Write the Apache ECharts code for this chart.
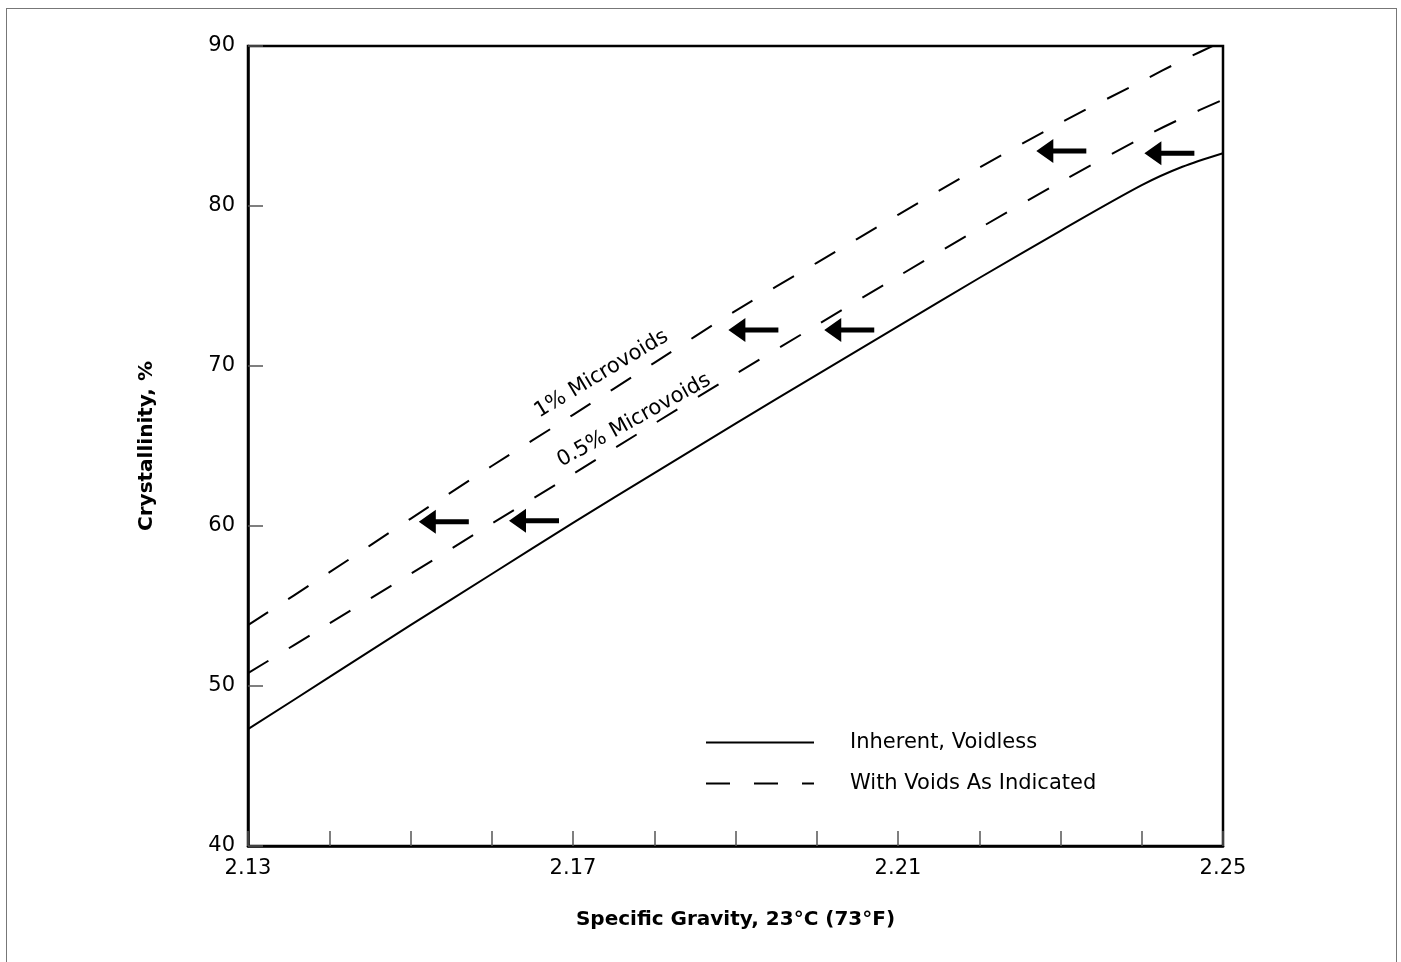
<!DOCTYPE html>
<html>
<head>
<meta charset="utf-8">
<title>Crystallinity vs Specific Gravity</title>
<script src="https://cdn.jsdelivr.net/npm/echarts@6/dist/echarts.min.js"></script>
<style>
  html, body { margin: 0; padding: 0; background: #fff; }
  #chart { width: 1401px; height: 962px; }
  /* outer frame of the figure */
  #frame { position: absolute; left: 6px; top: 8px; width: 1389px; height: 980px; border: 1px solid #777; pointer-events: none; }
</style>
</head>
<body>
<div id="chart"></div>
<div id="frame"></div>
<script>
// specific gravity at 23°C
const gravity = [2.13, 2.14, 2.15, 2.16, 2.17, 2.18, 2.19, 2.20, 2.21, 2.22, 2.23, 2.24, 2.245, 2.25];
// crystallinity, % — inherent (voidless)
const voidless = [47.3, 50.55, 53.8, 57.0, 60.2, 63.3, 66.4, 69.45, 72.48, 75.5, 78.45, 81.3, 82.45, 83.3];
// with 0.5% microvoids
const halfPercent = [50.8, 53.9, 57.0, 60.15, 63.25, 66.4, 69.5, 72.55, 75.6, 78.6, 81.5, 84.25, 85.5, 86.65];
// with 1% microvoids
const onePercent = [53.8, 57.1, 60.45, 63.75, 66.95, 70.2, 73.45, 76.45, 79.45, 82.4, 85.2, 87.8, 89.1, 90.3];

// arrows (centre of each arrow, in data units)
const arrowX = [2.1541, 2.1652, 2.1922, 2.2040, 2.2301, 2.2434];
const arrowY = [60.27, 60.33, 72.25, 72.25, 83.44, 83.3];

// curve labels
const curveLabels = ['1% Microvoids', '0.5% Microvoids'];
const curveLabelX = [2.1735, 2.1775];
const curveLabelY = [69.5, 66.6];
const curveLabelAngle = [31, 29];

const FONT = 'DejaVu Sans';
const ARROW = 'path://M0,12L17,0L17,9.5L50,9.5L50,14.5L17,14.5L17,24Z';

const chart = echarts.init(document.getElementById('chart'));

const toPairs = (ys) => gravity.map((x, i) => [x, ys[i]]);

const option = {
  animation: false,
  textStyle: { fontFamily: FONT },
  grid: {
    left: 248, top: 46, right: 178, bottom: 116,
    show: true, borderColor: '#000', borderWidth: 2.5,
    containLabel: false, outerBoundsMode: 'none'
  },
  legend: {
    left: 700, top: 727, orient: 'vertical',
    itemWidth: 108, itemHeight: 14, itemGap: 20,
    selectedMode: false,
    itemStyle: { opacity: 0 },
    data: ['Inherent, Voidless', 'With Voids As Indicated'],
    textStyle: { fontFamily: FONT, fontSize: 21, color: '#000', padding: [0, 0, 0, 31] }
  },
  xAxis: {
    type: 'value', min: 2.13, max: 2.25, interval: 0.01,
    name: 'Specific Gravity, 23°C (73°F)',
    nameLocation: 'middle', nameGap: 64,
    nameTextStyle: { fontFamily: FONT, fontSize: 20, fontWeight: 'bold', color: '#000' },
    axisLine: { lineStyle: { color: '#000', width: 2.5 } },
    axisTick: { inside: true, length: 15, lineStyle: { color: '#555', width: 1.5 } },
    axisLabel: {
      margin: 12, fontSize: 21, color: '#000', fontFamily: FONT,
      showMinLabel: true, showMaxLabel: true,
      formatter: (v) => (Math.round(v * 100) % 4 === 1 ? v.toFixed(2) : '')
    },
    splitLine: { show: false }
  },
  yAxis: {
    type: 'value', min: 40, max: 90, interval: 10,
    name: 'Crystallinity, %',
    nameLocation: 'middle', nameGap: 91,
    nameTextStyle: { fontFamily: FONT, fontSize: 20, fontWeight: 'bold', color: '#000' },
    axisLine: { show: true, lineStyle: { color: '#000', width: 2.5 } },
    axisTick: { show: true, inside: true, length: 15, lineStyle: { color: '#555', width: 1.5 } },
    axisLabel: { margin: 13, fontSize: 21, color: '#000', fontFamily: FONT },
    splitLine: { show: false }
  },
  series: [
    {
      name: 'Inherent, Voidless',
      type: 'line', smooth: 0.3, symbol: 'none',
      itemStyle: { color: '#000' },
      lineStyle: { color: '#000', width: 2 },
      data: toPairs(voidless)
    },
    {
      name: 'With Voids As Indicated',
      type: 'line', smooth: 0.3, symbol: 'none',
      itemStyle: { color: '#000' },
      lineStyle: { color: '#000', width: 2, type: [24, 24] },
      data: toPairs(halfPercent)
    },
    {
      name: 'With Voids As Indicated',
      type: 'line', smooth: 0.3, symbol: 'none',
      itemStyle: { color: '#000' },
      lineStyle: { color: '#000', width: 2, type: [24, 24] },
      data: toPairs(onePercent),
      markPoint: {
        symbol: 'circle', symbolSize: 1,
        itemStyle: { color: 'transparent' },
        data: curveLabels.map((t, i) => ({
          coord: [curveLabelX[i], curveLabelY[i]],
          label: {
            show: true, position: 'inside', formatter: t, rotate: curveLabelAngle[i],
            fontFamily: FONT, fontSize: 21, color: '#000'
          }
        }))
      }
    },
    {
      // arrows pointing from voided curves towards the voidless curve
      name: 'arrows',
      type: 'scatter',
      symbol: ARROW,
      symbolSize: [50, 24],
      itemStyle: { color: '#000', opacity: 1 },
      silent: true,
      z: 5,
      data: arrowX.map((x, i) => [x, arrowY[i]])
    }
  ]
};

chart.setOption(option);
</script>
</body>
</html>
